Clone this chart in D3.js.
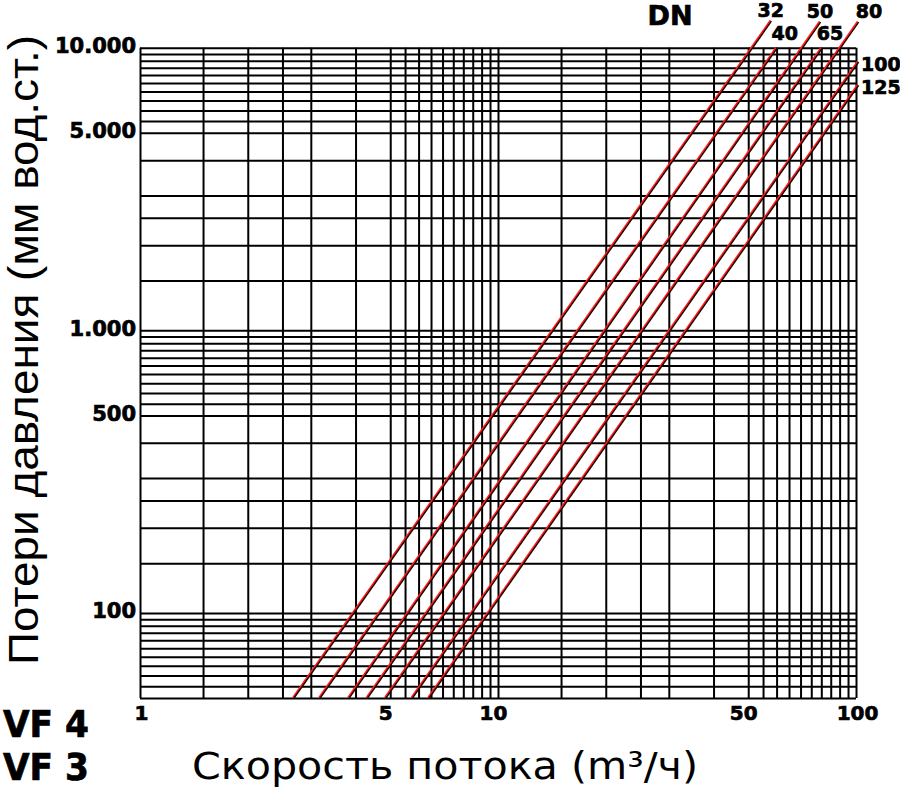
<!DOCTYPE html>
<html>
<head>
<meta charset="utf-8">
<script src="https://cdn.jsdelivr.net/npm/d3@7"></script>
<style>
  html, body { margin: 0; padding: 0; background: #fff; }
  svg { display: block; }
</style>
</head>
<body>
<div id="chart"></div>
<script>
// DN series: flow rate at the start (50 mm) and at the end of each line
var dnNames = ["32", "40", "50", "65", "80", "100", "125"];
var qStart  = [2.68, 3.17, 3.82, 4.30, 4.84, 5.74, 6.39];
var pStart  = [50, 50, 50, 50, 50, 50, 50];
var qEnd    = [57.8, 60.0, 79.3, 80.2, 101.3, 101.3, 101.3];
var pEnd    = [12450, 10000, 12350, 10000, 12350, 8925, 7385];

// grid lines and labels
var xGrid = [1, 1.5, 2, 2.5, 3, 4, 5, 5.5, 6, 6.5, 7, 7.5, 8, 8.5, 9, 9.5,
             10, 15, 20, 25, 30, 40, 50, 55, 60, 65, 70, 75, 80, 85, 90, 95, 100];
var yGrid = [50, 55, 60, 65, 70, 75, 80, 85, 90, 95,
             100, 150, 200, 250, 300, 400, 500, 550, 600, 650, 700, 750, 800, 850, 900, 950,
             1000, 1500, 2000, 2500, 3000, 4000, 5000, 5500, 6000, 6500, 7000, 7500, 8000, 8500, 9000, 9500,
             10000];
var xLabels = {1: "1", 5: "5", 10: "10", 50: "50", 100: "100"};
var yLabels = {100: "100", 500: "500", 1000: "1.000", 5000: "5.000", 10000: "10.000"};

var width = 900, height = 789;
var plotLeft = 140, plotRight = 856, plotTop = 47.7, plotBottom = 698;

var svg = d3.select("#chart").append("svg")
    .attr("width", width)
    .attr("height", height);

svg.append("rect").attr("width", width).attr("height", height).attr("fill", "#fff");

var x = d3.scaleLog().domain([1, 100]).range([plotLeft, plotRight]);
var y = d3.scaleLog().domain([50, 10000]).range([plotBottom, plotTop]);

var boldFont = "'DejaVu Sans', sans-serif";

// heavy look for the numbers
function heavy(sel, size) {
    sel.attr("fill", "#000")
       .attr("stroke", "#000")
       .attr("stroke-width", 0.7)
       .style("font-family", boldFont)
       .style("font-weight", "bold")
       .style("font-size", size + "px");
}

// vertical grid + x labels
var xAxis = svg.append("g")
    .attr("transform", `translate(0,${plotBottom})`)
    .call(d3.axisBottom(x)
        .tickValues(xGrid)
        .tickSize(-(plotBottom - plotTop))
        .tickSizeOuter(0)
        .tickFormat(d => xLabels[d] || ""));
xAxis.select(".domain").remove();
xAxis.selectAll("line").attr("stroke", "#000").attr("stroke-width", 2);
xAxis.selectAll("text")
    .attr("y", 22)
    .attr("dy", 0)
    .attr("dx", d => (d == 1 || d == 100) ? 1 : -5)
    .call(heavy, 20);

// horizontal grid + y labels
var yAxis = svg.append("g")
    .attr("transform", `translate(${plotLeft},0)`)
    .call(d3.axisLeft(y)
        .tickValues(yGrid)
        .tickSize(-(plotRight - plotLeft))
        .tickSizeOuter(0)
        .tickFormat(d => yLabels[d] || ""));
yAxis.select(".domain").remove();
yAxis.selectAll("line").attr("stroke", "#000").attr("stroke-width", 2);
yAxis.selectAll("text")
    .attr("x", -4)
    .attr("dy", 5)
    .call(heavy, 21);

// DN lines
var series = dnNames.map(function(name, i) {
    return {name: name, points: [{q: qStart[i], p: pStart[i]}, {q: qEnd[i], p: pEnd[i]}]};
});

var line = d3.line().x(d => x(d.q)).y(d => y(d.p));

var lines = svg.append("g");
lines.selectAll("path.dark")
    .data(series)
    .enter().append("path")
    .attr("class", "dark")
    .attr("d", d => line(d.points))
    .attr("transform", "translate(0.4,0.2)")
    .attr("fill", "none")
    .attr("stroke", "#200000")
    .attr("stroke-width", 2);
lines.selectAll("path.red")
    .data(series)
    .enter().append("path")
    .attr("class", "red")
    .attr("d", d => line(d.points))
    .attr("transform", "translate(-0.6,-0.3)")
    .attr("fill", "none")
    .attr("stroke", "#ff1c1c")
    .attr("stroke-width", 1.4);

// DN labels at the line ends
svg.append("g").selectAll("text")
    .data(series)
    .enter().append("text")
    .attr("x", function(d) {
        var e = d.points[1];
        if (e.p > 10000) return x(e.q) + (e.q > 100 ? 11 : 0);
        if (e.p == 10000) return x(e.q) - 5;
        return x(e.q) + 3;
    })
    .attr("y", function(d) {
        var e = d.points[1];
        if (e.p > 10000) return y(e.p) - 4;
        if (e.p == 10000) return y(e.p) - 8;
        return y(e.p) + 9;
    })
    .attr("text-anchor", d => d.points[1].p > 10000 ? "middle" : "start")
    .call(heavy, 19)
    .text(d => d.name);

svg.append("text")
    .attr("x", 670).attr("y", 25)
    .attr("text-anchor", "middle")
    .call(heavy, 27)
    .text("DN");

// axis titles
svg.append("text")
    .attr("transform", "translate(38,350) rotate(-90)")
    .attr("text-anchor", "middle")
    .attr("textLength", 630)
    .attr("lengthAdjust", "spacingAndGlyphs")
    .style("font-family", "'Liberation Sans', Arial, sans-serif")
    .style("font-size", "42px")
    .text("Потери давления (мм вод.ст.)");

svg.append("text")
    .attr("x", 192).attr("y", 779)
    .attr("textLength", 506)
    .attr("lengthAdjust", "spacingAndGlyphs")
    .style("font-family", "'DejaVu Sans', sans-serif")
    .style("font-size", "37px")
    .text("Скорость потока (m³/ч)");

// model names
[["VF 4", 737], ["VF 3", 780]].forEach(function(m) {
    svg.append("text")
        .attr("x", 3).attr("y", m[1])
        .attr("textLength", 86)
        .attr("lengthAdjust", "spacingAndGlyphs")
        .call(heavy, 37)
        .text(m[0]);
});
</script>
</body>
</html>
